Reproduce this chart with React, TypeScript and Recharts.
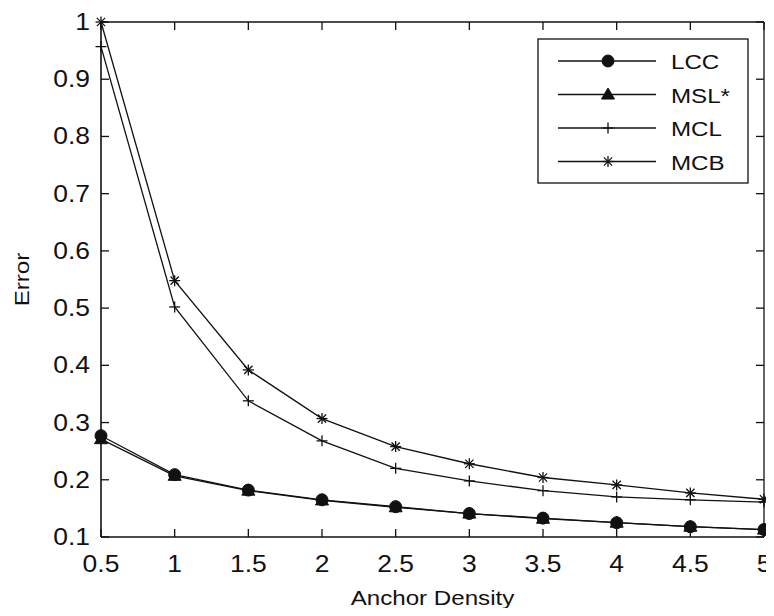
import React from 'react';
import { LineChart, Line, XAxis, YAxis, ReferenceLine } from 'recharts';

const xValues = [0.5, 1, 1.5, 2, 2.5, 3, 3.5, 4, 4.5, 5];
const lccValues = [0.277, 0.209, 0.182, 0.165, 0.153, 0.141, 0.133, 0.125, 0.118, 0.113];
const mslValues = [0.271, 0.207, 0.181, 0.164, 0.152, 0.141, 0.132, 0.125, 0.118, 0.113];
const mclValues = [0.957, 0.502, 0.338, 0.268, 0.22, 0.198, 0.181, 0.17, 0.165, 0.161];
const mcbValues = [1.0, 0.548, 0.392, 0.307, 0.258, 0.228, 0.204, 0.191, 0.177, 0.166];
const xTicks = [0.5, 1, 1.5, 2, 2.5, 3, 3.5, 4, 4.5, 5];
const yTicks = [0.1, 0.2, 0.3, 0.4, 0.5, 0.6, 0.7, 0.8, 0.9, 1];
const seriesNames = ['LCC', 'MSL*', 'MCL', 'MCB'];

const data = xValues.map((x, i) => ({
  x,
  lcc: lccValues[i],
  msl: mslValues[i],
  mcl: mclValues[i],
  mcb: mcbValues[i],
}));

const FONT = '"Liberation Sans", Arial, sans-serif';
const INK = '#111';
const SX = 1.15;
const CHART_W = 766;
const CHART_H = 600;
const M_TOP = 14;
const M_RIGHT = 10;
const Y_AXIS_W = 93;
const X_AXIS_H = 71;
const PLOT_W = CHART_W - M_RIGHT - Y_AXIS_W;
const PLOT_H = CHART_H - M_TOP - X_AXIS_H;
const TICK_LEN = 8;

const Marker = ({ kind, cx, cy }: { kind: string; cx: number; cy: number }) => {
  if (cx == null || cy == null || isNaN(cx) || isNaN(cy)) return null;
  if (kind === 'LCC') return <circle cx={cx} cy={cy} r={6} fill={INK} stroke={INK} />;
  if (kind === 'MSL*') {
    const s = 6.5;
    return <polygon points={`${cx},${cy - s} ${cx - s},${cy + s * 0.7} ${cx + s},${cy + s * 0.7}`} fill={INK} stroke={INK} />;
  }
  if (kind === 'MCL') {
    const s = 5.5;
    return (
      <g stroke={INK} strokeWidth={1.3}>
        <line x1={cx - s} y1={cy} x2={cx + s} y2={cy} />
        <line x1={cx} y1={cy - s} x2={cx} y2={cy + s} />
      </g>
    );
  }
  const s = 5.5;
  const d = s * 0.75;
  return (
    <g stroke={INK} strokeWidth={1.3}>
      <line x1={cx - s} y1={cy} x2={cx + s} y2={cy} />
      <line x1={cx} y1={cy - s} x2={cx} y2={cy + s} />
      <line x1={cx - d} y1={cy - d} x2={cx + d} y2={cy + d} />
      <line x1={cx - d} y1={cy + d} x2={cx + d} y2={cy - d} />
    </g>
  );
};

const XTick = (props: any) => {
  const { x, y, payload } = props;
  return (
    <g>
      <line x1={x} y1={y} x2={x} y2={y - TICK_LEN} stroke={INK} strokeWidth={1.3} />
      <line x1={x} y1={y - PLOT_H} x2={x} y2={y - PLOT_H + TICK_LEN} stroke={INK} strokeWidth={1.3} />
      <text
        transform={`translate(${x},${y + 35}) scale(${SX},1)`}
        textAnchor="middle"
        fontSize={23}
        fontFamily={FONT}
        fill={INK}
      >
        {String(payload.value)}
      </text>
    </g>
  );
};

const YTick = (props: any) => {
  const { x, y, payload } = props;
  return (
    <g>
      <line x1={x} y1={y} x2={x + TICK_LEN} y2={y} stroke={INK} strokeWidth={1.3} />
      <line x1={x + PLOT_W} y1={y} x2={x + PLOT_W - TICK_LEN} y2={y} stroke={INK} strokeWidth={1.3} />
      <text
        transform={`translate(${x - 11},${y + 8}) scale(${SX},1)`}
        textAnchor="end"
        fontSize={23}
        fontFamily={FONT}
        fill={INK}
      >
        {String(payload.value)}
      </text>
    </g>
  );
};

const XTitle = (props: any) => {
  const vb = props.viewBox || {};
  const cx = vb.x + vb.width / 2;
  return (
    <text
      transform={`translate(${cx},${vb.y + 68}) scale(${SX},1)`}
      textAnchor="middle"
      fontSize={21}
      fontFamily={FONT}
      fill={INK}
    >
      Anchor Density
    </text>
  );
};

const YTitle = (props: any) => {
  const vb = props.viewBox || {};
  const cy = vb.y + vb.height / 2;
  return (
    <text
      transform={`translate(${vb.x + 21},${cy}) rotate(-90) scale(${SX},1)`}
      textAnchor="middle"
      fontSize={21}
      fontFamily={FONT}
      fill={INK}
    >
      Error
    </text>
  );
};

const LegendBox = () => {
  const rows = [0, 1, 2, 3];
  return (
    <svg width={212} height={146} style={{ display: 'block' }}>
      <rect x={1} y={1} width={210} height={144} fill="#fff" stroke={INK} strokeWidth={1.3} />
      {rows.map((i) => {
        const cy = 23 + i * 33.5;
        return (
          <g key={i}>
            <line x1={21} y1={cy} x2={119} y2={cy} stroke={INK} strokeWidth={1.5} />
            <Marker kind={seriesNames[i]} cx={71} cy={cy} />
            <text
              transform={`translate(${134},${cy + 8}) scale(${SX},1)`}
              fontSize={21}
              fontFamily={FONT}
              fill={INK}
            >
              {seriesNames[i]}
            </text>
          </g>
        );
      })}
    </svg>
  );
};

const keys = ['mcb', 'mcl', 'msl', 'lcc'];
const kinds: Record<string, string> = { lcc: 'LCC', msl: 'MSL*', mcl: 'MCL', mcb: 'MCB' };

export default function App() {
  return (
    <div style={{ position: 'relative', width: CHART_W, height: CHART_H }}>
      <style>{`.recharts-surface { overflow: visible; } .recharts-wrapper { overflow: visible; }`}</style>
      <LineChart width={CHART_W} height={CHART_H} data={data} margin={{ top: M_TOP, right: M_RIGHT, left: 0, bottom: 0 }}>
        <XAxis
          xAxisId="b"
          dataKey="x"
          type="number"
          domain={[0.5, 5]}
          ticks={xTicks}
          height={X_AXIS_H}
          tickSize={0}
          tickMargin={0}
          tick={<XTick />}
          tickLine={false}
          axisLine={{ stroke: INK, strokeWidth: 1.6 }}
          interval={0}
          label={<XTitle />}
        />
        <YAxis
          yAxisId="l"
          type="number"
          domain={[0.1, 1]}
          ticks={yTicks}
          width={Y_AXIS_W}
          tickSize={0}
          tickMargin={0}
          tick={<YTick />}
          tickLine={false}
          axisLine={{ stroke: INK, strokeWidth: 1.6 }}
          interval={0}
          label={<YTitle />}
        />
        <ReferenceLine xAxisId="b" yAxisId="l" y={1} stroke={INK} strokeWidth={1.3} />
        <ReferenceLine xAxisId="b" yAxisId="l" x={5} stroke={INK} strokeWidth={1.3} />
        {keys.map((k) => (
          <Line
            key={k}
            xAxisId="b"
            yAxisId="l"
            dataKey={k}
            name={kinds[k]}
            stroke={INK}
            strokeWidth={1.3}
            isAnimationActive={false}
            dot={(p: any) => <Marker key={`${k}-${p.index}`} kind={kinds[k]} cx={p.cx} cy={p.cy} />}
            activeDot={false}
          />
        ))}
      </LineChart>
      <div style={{ position: 'absolute', left: 529, top: 30 }}>
        <LegendBox />
      </div>
    </div>
  );
}
